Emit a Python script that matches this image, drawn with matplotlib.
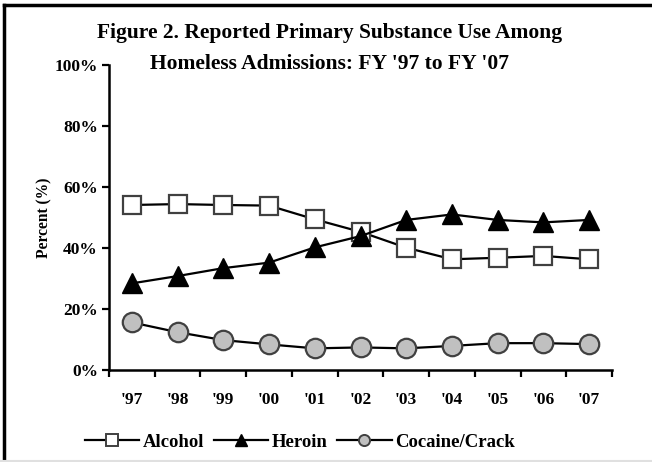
import matplotlib
matplotlib.use("Agg")
import matplotlib.pyplot as plt
from matplotlib.lines import Line2D

years = ["'97", "'98", "'99", "'00", "'01", "'02", "'03", "'04", "'05", "'06", "'07"]
alcohol = [54.1, 54.4, 54.1, 53.9, 49.4, 45.3, 40.1, 36.3, 36.8, 37.4, 36.3]
heroin = [28.4, 30.8, 33.4, 35.2, 40.2, 43.9, 49.2, 51.0, 49.2, 48.4, 49.2]
cocaine = [15.6, 12.4, 9.8, 8.4, 7.1, 7.4, 7.1, 7.9, 8.8, 8.8, 8.5]
yticks = [0, 20, 40, 60, 80, 100]

plt.rcParams['font.family'] = ['Liberation Serif', 'DejaVu Serif']
plt.rcParams['font.weight'] = 'bold'

fig = plt.figure(figsize=(6.52, 4.62), dpi=100)
ax = fig.add_axes([109 / 652, 1 - 370 / 462, 503 / 652, 305 / 462])

x = list(range(len(years)))
ax.plot(x, alcohol, color='black', lw=1.6, marker='s', ms=13.5,
        mfc='white', mec='#404040', mew=1.6, label='Alcohol')
ax.plot(x, heroin, color='black', lw=1.6, marker='^', ms=14,
        mfc='black', mec='black', mew=1, label='Heroin')
ax.plot(x, cocaine, color='black', lw=1.6, marker='o', ms=14,
        mfc='#c0c0c0', mec='#404040', mew=1.6, label='Cocaine/Crack')

ax.set_xlim(-0.5, len(years) - 0.5)
ax.set_ylim(0, 100)
ax.set_xticks(x)
ax.set_xticklabels(years, fontsize=12.5, fontweight='bold')
ax.set_xticks([i - 0.5 for i in range(len(years) + 1)], minor=True)
ax.tick_params(axis='x', which='major', length=0, pad=16)
ax.tick_params(axis='x', which='minor', length=5, width=1.6, direction='out')
ax.set_yticks(yticks)
ax.set_yticklabels([f"{v}%" for v in yticks], fontsize=12.5, fontweight='bold')
ax.tick_params(axis='y', length=5, width=1.6, direction='out', pad=3)
for s in ['top', 'right']:
    ax.spines[s].set_visible(False)
for s in ['left', 'bottom']:
    ax.spines[s].set_linewidth(1.8)
ax.set_ylabel('Percent (%)', fontsize=11.2, fontweight='bold', labelpad=1.5)

fig.text(0.506, 1 - 33 / 462, "Figure 2. Reported Primary Substance Use Among",
         ha='center', va='center', fontsize=15.5, fontweight='bold')
fig.text(0.506, 1 - 64 / 462, "Homeless Admissions: FY '97 to FY '07",
         ha='center', va='center', fontsize=15.5, fontweight='bold')

handles = [
    Line2D([], [], color='black', lw=1.6, marker='s', ms=8, mfc='white', mec='#404040', mew=1.4),
    Line2D([], [], color='black', lw=1.6, marker='^', ms=9, mfc='black', mec='black'),
    Line2D([], [], color='black', lw=1.6, marker='o', ms=8, mfc='#c0c0c0', mec='#404040', mew=1.4),
]
fig.legend(handles, ['Alcohol', 'Heroin', 'Cocaine/Crack'], loc='center',
           bbox_to_anchor=(300 / 652, 1 - 442 / 462), ncol=3, frameon=False,
           prop={'size': 13.5, 'weight': 'bold'}, handlelength=2.9,
           handletextpad=0.2, columnspacing=0.5)

# outer frame (left and top edges visible in the crop)
fig.add_artist(Line2D([0.0069, 0.0069], [0, 0.99], transform=fig.transFigure, color='black', lw=2.5))
fig.add_artist(Line2D([0.0069, 1], [0.99, 0.99], transform=fig.transFigure, color='black', lw=2.5))
fig.add_artist(Line2D([0, 1], [0.002, 0.002], transform=fig.transFigure, color='#e0e0e0', lw=1.5))

fig.savefig('out.png', dpi=100)
